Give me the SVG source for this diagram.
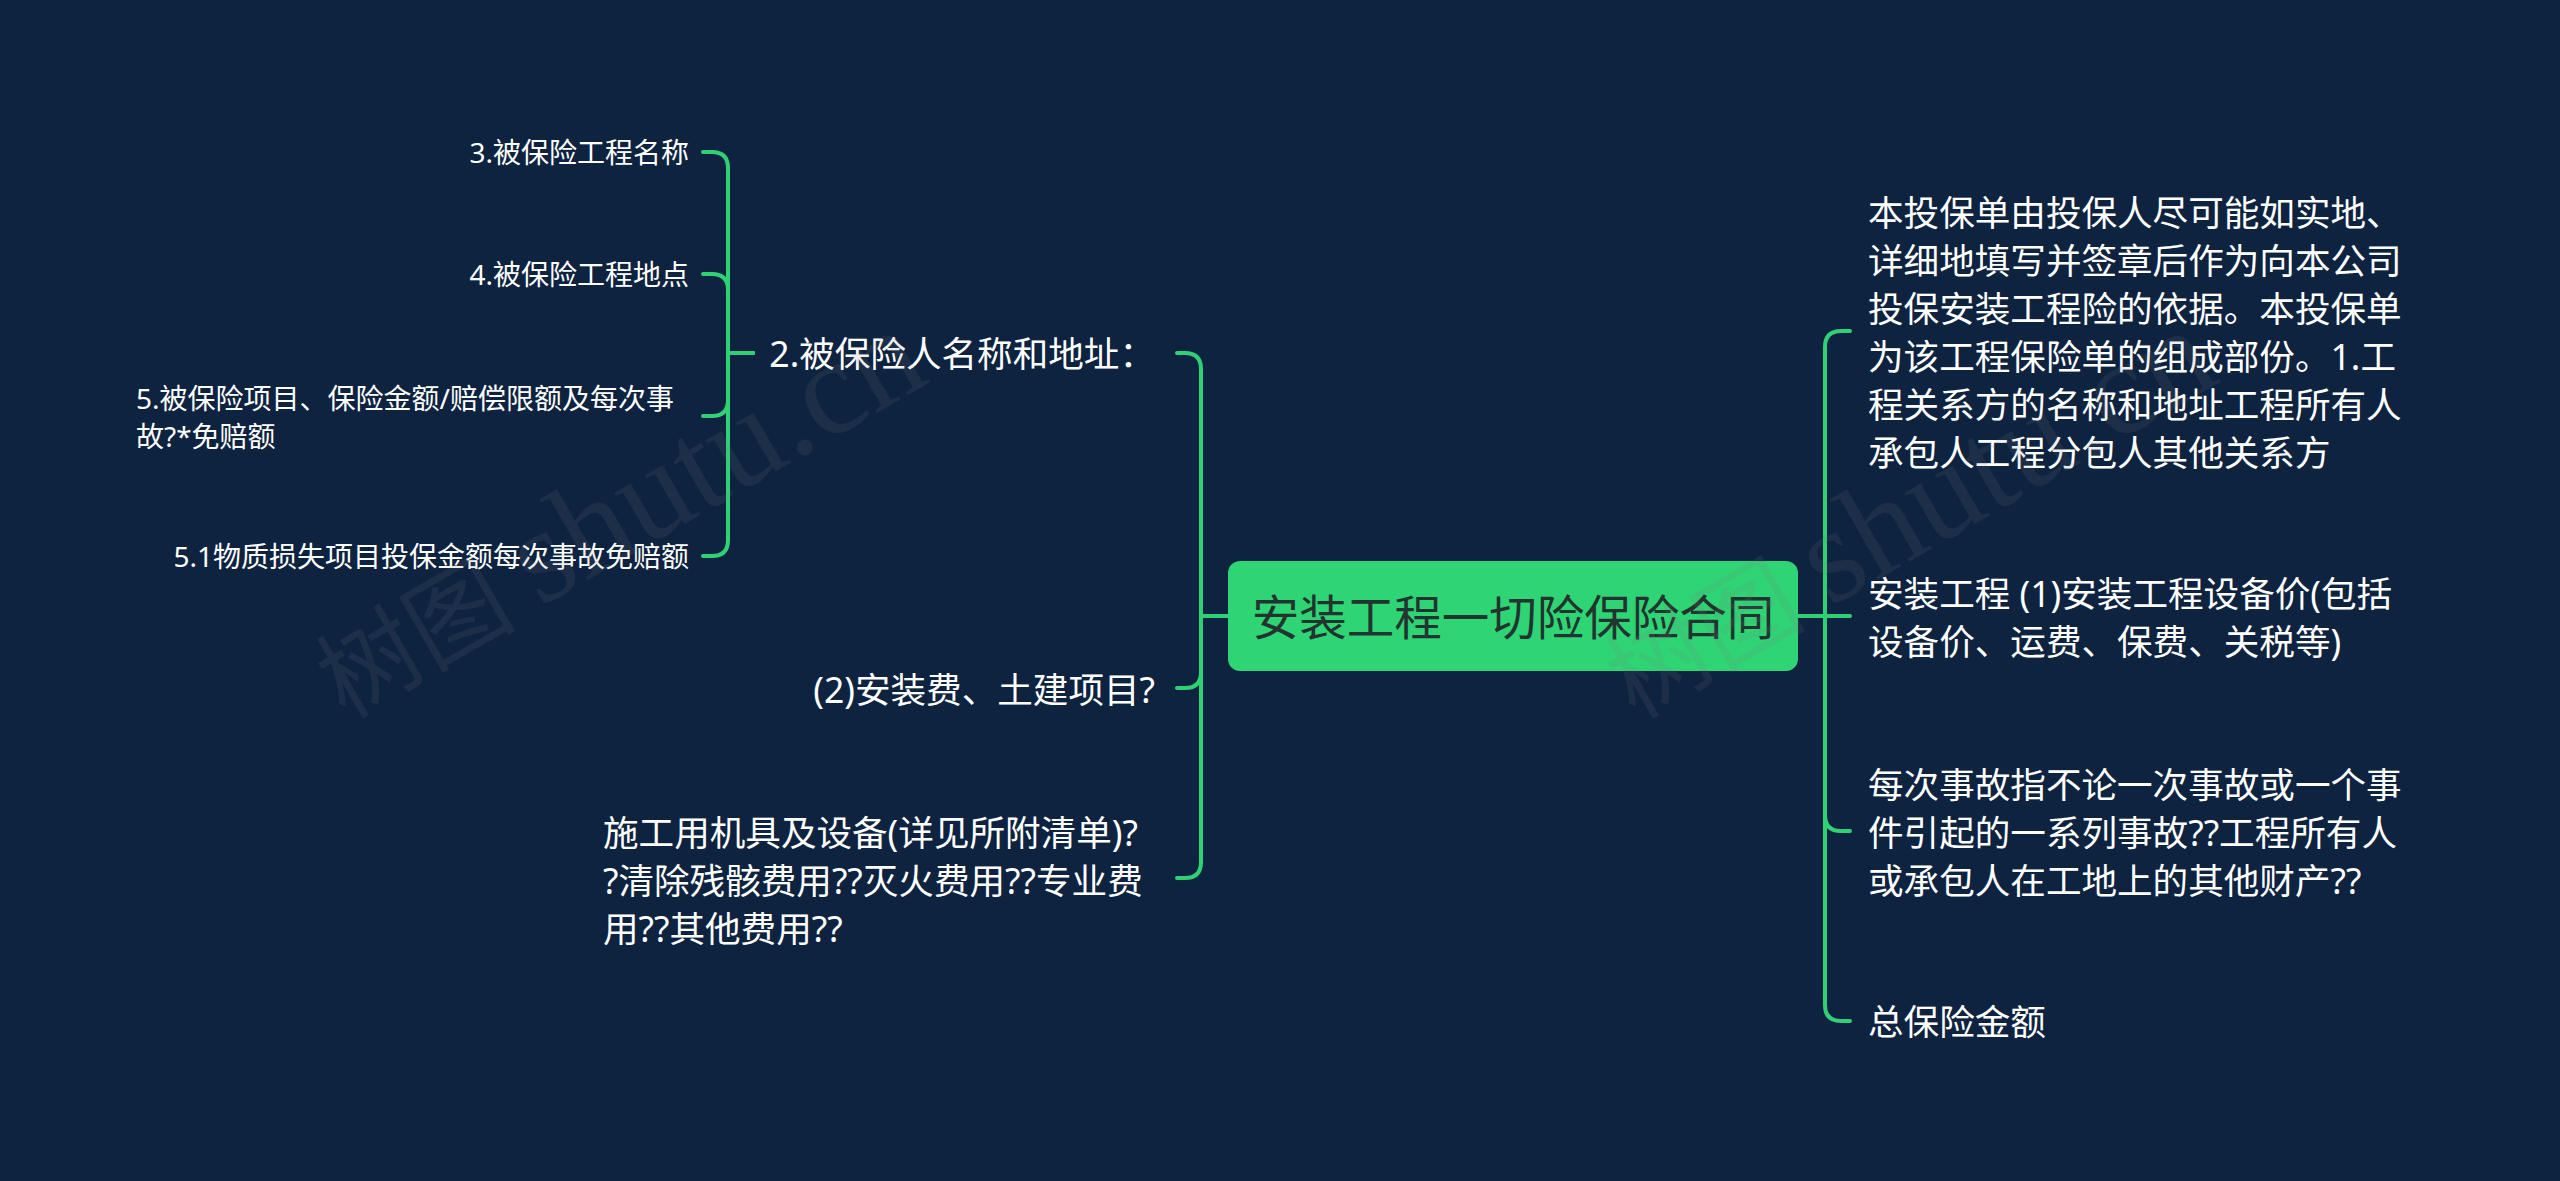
<svg xmlns="http://www.w3.org/2000/svg" width="2560" height="1181" viewBox="0 0 2560 1181">
<style>
.bg{fill:#0e2340}
.ln{fill:none;stroke:#2fd174;stroke-width:4;stroke-linecap:round;stroke-linejoin:round}
.t{font-family:"Noto Sans","Noto Sans CJK SC",sans-serif;fill:#ffffff;dominant-baseline:central}
.l1{font-size:35.6px}
.l2{font-size:28px}
.root{font-family:"Noto Sans","Noto Sans CJK SC",sans-serif;font-size:47.5px;fill:#223430;dominant-baseline:central}
.wm{font-family:"Liberation Serif","Noto Sans CJK SC",serif;font-size:100px;fill:#808080;opacity:0.13}
.wm .en{font-size:135px}
</style>
<rect class="bg" x="0" y="0" width="2560" height="1181"/>
<g id="connectors">
  <path class="ln" d="M1798,616 H1850"/>
  <path class="ln" d="M1798,616 H1825 V347 Q1825,331 1841,331 H1850"/>
  <path class="ln" d="M1798,616 H1825 V815 Q1825,831 1841,831 H1850"/>
  <path class="ln" d="M1798,616 H1825 V1005 Q1825,1021 1841,1021 H1850"/>
  <path class="ln" d="M1228,616 H1201 V369 Q1201,353 1185,353 H1177"/>
  <path class="ln" d="M1228,616 H1201 V672 Q1201,688 1185,688 H1177"/>
  <path class="ln" d="M1228,616 H1201 V862 Q1201,878 1185,878 H1177"/>
  <path class="ln" d="M753,353 H728 V168 Q728,152 712,152 H703"/>
  <path class="ln" d="M753,353 H728 V290 Q728,274 712,274 H703"/>
  <path class="ln" d="M753,353 H728 V400 Q728,416 712,416 H703"/>
  <path class="ln" d="M753,353 H728 V540 Q728,556 712,556 H703"/>
</g>
<g id="root">
  <rect x="1228" y="561" width="570" height="110" rx="12" fill="#2fd474"/>
  <text class="root" x="1513" y="616" text-anchor="middle">安装工程一切险保险合同</text>
</g>
<g id="r1">
  <text class="t l1" x="1868">
    <tspan x="1868" y="212">本投保单由投保人尽可能如实地、</tspan>
    <tspan x="1868" y="260">详细地填写并签章后作为向本公司</tspan>
    <tspan x="1868" y="308">投保安装工程险的依据。本投保单</tspan>
    <tspan x="1868" y="356">为该工程保险单的组成部份。1.工</tspan>
    <tspan x="1868" y="404">程关系方的名称和地址工程所有人</tspan>
    <tspan x="1868" y="452">承包人工程分包人其他关系方</tspan>
  </text>
</g>
<g id="r2">
  <text class="t l1" x="1868">
    <tspan x="1868" y="593">安装工程 (1)安装工程设备价(包括</tspan>
    <tspan x="1868" y="641">设备价、运费、保费、关税等)</tspan>
  </text>
</g>
<g id="r3">
  <text class="t l1" x="1868">
    <tspan x="1868" y="784">每次事故指不论一次事故或一个事</tspan>
    <tspan x="1868" y="832">件引起的一系列事故??工程所有人</tspan>
    <tspan x="1868" y="880">或承包人在工地上的其他财产??</tspan>
  </text>
</g>
<g id="r4">
  <text class="t l1" x="1868" y="1021">总保险金额</text>
</g>
<g id="l1">
  <text class="t l1" x="1155" y="353" text-anchor="end">2.被保险人名称和地址：</text>
</g>
<g id="l2">
  <text class="t l1" x="1155" y="689" text-anchor="end">(2)安装费、土建项目?</text>
</g>
<g id="l3">
  <text class="t l1" x="603">
    <tspan x="603" y="832">施工用机具及设备(详见所附清单)?</tspan>
    <tspan x="603" y="880">?清除残骸费用??灭火费用??专业费</tspan>
    <tspan x="603" y="928">用??其他费用??</tspan>
  </text>
</g>
<g id="l1a">
  <text class="t l2" x="689" y="152" text-anchor="end">3.被保险工程名称</text>
</g>
<g id="l1b">
  <text class="t l2" x="689" y="274" text-anchor="end">4.被保险工程地点</text>
</g>
<g id="l1c">
  <text class="t l2" x="136">
    <tspan x="136" y="398">5.被保险项目、保险金额/赔偿限额及每次事</tspan>
    <tspan x="136" y="436">故?*免赔额</tspan>
  </text>
</g>
<g id="l1d">
  <text class="t l2" x="689" y="556" text-anchor="end">5.1物质损失项目投保金额每次事故免赔额</text>
</g>
<g id="watermarks">
  <text class="wm" transform="translate(345 720) rotate(-30)">树图 <tspan class="en">shutu.cn</tspan></text>
  <text class="wm" transform="translate(1635 720) rotate(-30)">树图 <tspan class="en">shutu.cn</tspan></text>
</g>
</svg>
